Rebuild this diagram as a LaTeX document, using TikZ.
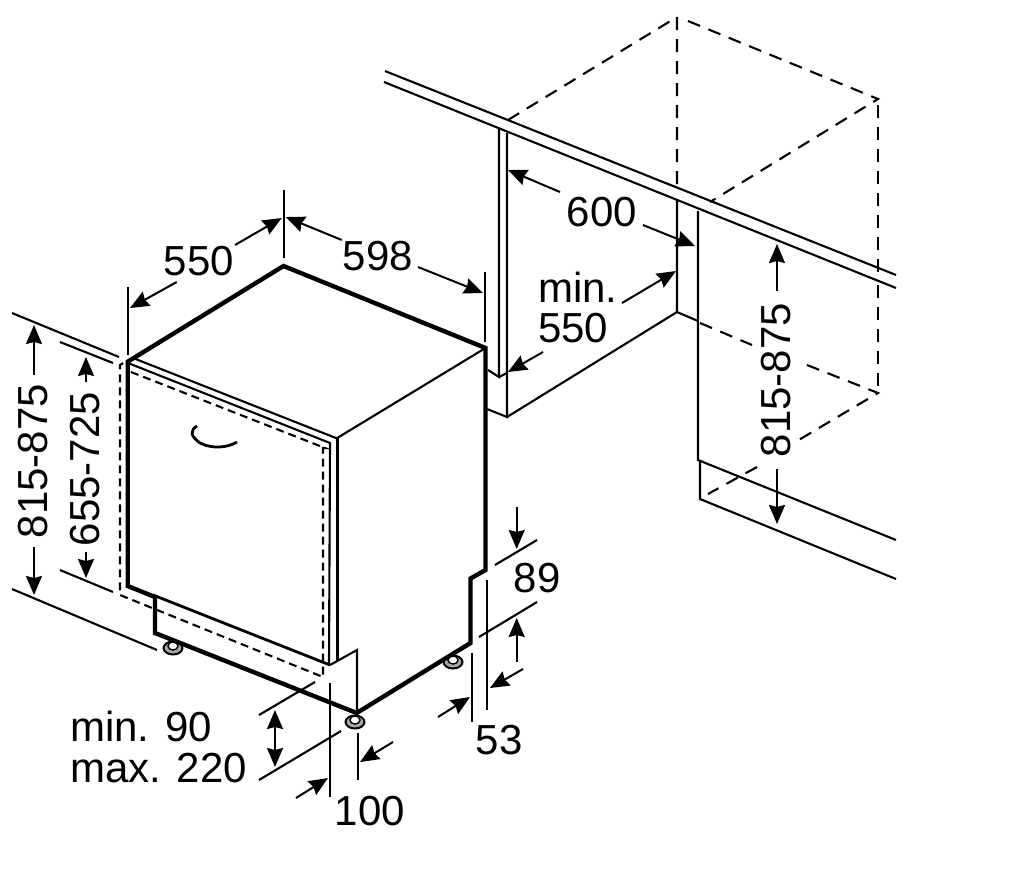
\documentclass[tikz,border=0pt]{standalone}
\usepackage{fontspec}
\setmainfont{Liberation Sans}
\usetikzlibrary{arrows.meta}

\tikzstyle{heavy} = [line width=4.4pt, line join=miter]
\tikzstyle{medium} = [line width=2.8pt]
\tikzstyle{fine} = [line width=2.1pt]
\tikzstyle{hidden} = [line width=2.1pt, dash pattern=on 13pt off 9pt]
\tikzstyle{hiddenfine} = [line width=2.1pt, dash pattern=on 8pt off 5pt]
\tikzstyle{arrow} = [line width=2pt,-{Stealth[length=19pt,width=16pt,inset=2pt]}]
\tikzstyle{arrowboth} = [line width=2pt,{Stealth[length=19pt,width=16pt,inset=2pt]}-{Stealth[length=19pt,width=16pt,inset=2pt]}]
\tikzstyle{size} = [inner sep=0pt, font=\fontsize{42}{46}\selectfont]

\begin{document}
\begin{tikzpicture}[x=1pt, y=-1pt]
    \useasboundingbox (0,0) rectangle (1014,892);

    % feet
    \foreach \fx/\fy in {173/648, 355/722, 453/662} {
        \draw [line width=2pt, fill=black!35] (\fx,\fy) ellipse (9.5 and 6.5);
        \draw [line width=1.4pt, fill=white] (\fx,\fy-2) ellipse (5 and 4);
    }

    % appliance
    \draw [heavy] (155,597) -- (127.7,586) -- (127.7,361.7) -- (283.5,266) -- (485.5,348) -- (485.5,570) -- (470.5,578.5) -- (470.5,643) -- (356.7,713) -- (155,633) -- (155,595);
    \draw [medium] (153,595) -- (330,665);
    \draw [fine] (485,348.3) -- (336.7,438.3) -- (133,358);
    \draw [fine] (128,363) -- (330,443) -- (329,665);
    \draw [fine] (337.5,438.3) -- (337.5,661);
    \draw [fine] (330,665) -- (357,650) -- (357,713);
    \draw [medium] (197,426) .. controls (190,430) and (190,436) .. (200,443) .. controls (212,449) and (227,448) .. (237,442);

    % door outline
    \draw [hiddenfine] (131,372) -- (325,448) -- (323,448) -- (323,677) -- (120,595) -- (120,365) -- (125,362);

    % niche
    \draw [fine] (385,71) -- (896,275);
    \draw [fine] (384,82) -- (896,288);
    \draw [fine] (499,128) -- (499,377) -- (488,370);
    \draw [fine] (507,133) -- (507,417) -- (487,409);
    \draw [fine] (499,377) -- (507,373);
    \draw [fine] (507,417) -- (677,312) -- (677,199);
    \draw [fine] (677,312) -- (698,321);
    \draw [fine] (698,211) -- (698,460) -- (896,540);
    \draw [fine] (700,460) -- (700,499) -- (896,579);

    % hidden box
    \draw [hidden] (508,120) -- (677,17) -- (677,187);
    \draw [hidden] (688,21) -- (878,99) -- (710,202);
    \draw [hidden] (878,105) -- (878,272);
    \draw [hidden] (878,285) -- (878,393);
    \draw [hidden] (700,323) -- (752,345);
    \draw [hidden] (807,365) -- (878,393) -- (797,441);
    \draw [hidden] (757,467) -- (708,494);

    % extension lines
    \draw [fine] (128,287) -- (128,355);
    \draw [fine] (283.7,190) -- (283.7,258);
    \draw [fine] (485,272) -- (485,342);
    \draw [fine] (12,313) -- (119,357);
    \draw [fine] (60,342) -- (113,363);
    \draw [fine] (60,570) -- (113,592);
    \draw [fine] (12,589) -- (157,650);
    \draw [fine] (259,715) -- (315,682);
    \draw [fine] (259,780) -- (341,731);
    \draw [fine] (330,683) -- (330,797);
    \draw [fine] (358,733) -- (358,780);
    \draw [fine] (495,565) -- (537,540);
    \draw [fine] (479,637) -- (537,602);
    \draw [fine] (486.7,580) -- (486.7,710);
    \draw [fine] (472,653) -- (472,722);

    % labels
    \node (depth) [size] at (199,261) {550};
    \node (width) [size] at (378,256) {598};
    \node (niche) [size] at (602,212) {600};
    \node (nichemin) [size, anchor=west] at (538,287) {min.};
    \node (nichedepth) [size, anchor=west] at (538,328) {550};
    \node (height) [size, rotate=90] at (33,461) {815-875};
    \node (door) [size, rotate=90] at (85,469) {655-725};
    \node (nicheheight) [size, rotate=90] at (776,380) {815-875};
    \node (plinthmin) [size, anchor=west] at (70,726) {min. 90};
    \node (plinthmax) [size, anchor=west] at (70,768) {max. 220};
    \node (feet) [size] at (370,811) {100};
    \node (step) [size] at (537,578) {89};
    \node (recess) [size] at (499,740) {53};

    % dimension arrows
    \draw [arrow] (176.7,282) -- (130,308);
    \draw [arrow] (235,245) -- (281.7,218);
    \draw [arrow] (341.7,240) -- (285.7,217);
    \draw [arrow] (418,267) -- (483,293);
    \draw [arrow] (560,192) -- (508,170);
    \draw [arrow] (643,225) -- (695,246);
    \draw [arrow] (622,303) -- (676,271);
    \draw [arrow] (543,352) -- (508,372);
    \draw [arrow] (34,375) -- (34,325);
    \draw [arrow] (34,547) -- (34,595);
    \draw [arrow] (86,382) -- (86,357);
    \draw [arrow] (86,552) -- (86,578);
    \draw [arrow] (777,291) -- (777,244);
    \draw [arrow] (777,469) -- (777,524);
    \draw [arrowboth] (275,710) -- (275,767);
    \draw [arrow] (296,798) -- (328,778);
    \draw [arrow] (393,742) -- (360,762);
    \draw [arrow] (516.7,507) -- (516.7,549);
    \draw [arrow] (516.7,662) -- (516.7,618);
    \draw [arrow] (523,669) -- (490,688);
    \draw [arrow] (438,717) -- (470,697);
\end{tikzpicture}
\end{document}
